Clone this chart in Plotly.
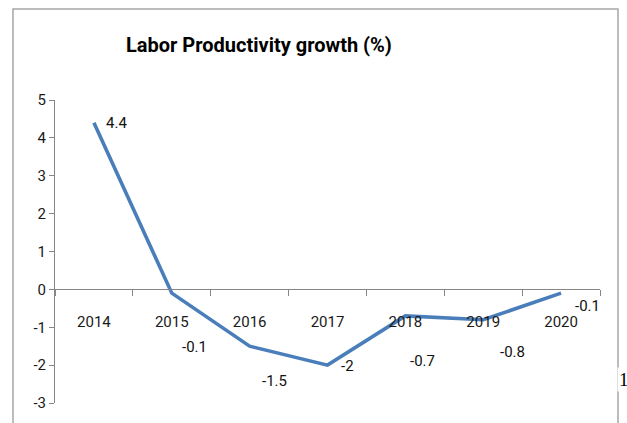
import plotly.graph_objects as go

years = ["2014", "2015", "2016", "2017", "2018", "2019", "2020"]
growth = [4.4, -0.1, -1.5, -2.0, -0.7, -0.8, -0.1]
label_text = ["4.4", "-0.1", "-1.5", "-2", "-0.7", "-0.8", "-0.1"]
y_ticks = [5, 4, 3, 2, 1, 0, -1, -2, -3]
y_tick_text = ["5", "4", "3", "2", "1", "0", "-1", "-2", "-3"]

# label offsets (px) relative to each point
label_dx = [23, 23, 25, 20, 17, 29, 26]
label_dy = [0, -54, -35, -1, -45, -32, -13]

FONT = "Liberation Sans Narrow, Roboto, sans-serif"
TXT = "#1a1a1a"

year_num = [int(y) for y in years]
boundaries = [y - 0.5 for y in year_num] + [year_num[-1] + 0.5]

fig = go.Figure()
fig.add_trace(go.Scatter(
    x=year_num, y=growth, mode="lines",
    line=dict(color="#4A7EBB", width=3.6),
    hoverinfo="skip", showlegend=False,
))

L, R, T, B = 55, 600, 100, 403
W, H = 627, 423

def px(x):
    return (x - L) / (R - L)

def py(y):
    return (B - y) / (B - T)

annotations = []
for yr, v, t, dx, dy in zip(year_num, growth, label_text, label_dx, label_dy):
    annotations.append(dict(x=yr, y=v, xref="x", yref="y", text=t, showarrow=False,
                            xshift=dx, yshift=dy,
                            font=dict(family=FONT, size=15, color="#111")))

annotations.append(dict(xref="paper", yref="paper", x=px(259), y=py(31),
                        text="<b>Labor Productivity growth (%)</b>", showarrow=False,
                        font=dict(family=FONT, size=20, color="#000")))
annotations.append(dict(xref="paper", yref="paper", x=px(617), y=py(379),
                        xanchor="left", yanchor="middle",
                        text="1", showarrow=False,
                        font=dict(family="Liberation Serif, Times New Roman, serif",
                                  size=19, color="#000"),
                        bgcolor="white"))

fig.update_layout(
    width=W, height=H,
    margin=dict(l=L, r=W - R, t=T, b=H - B, autoexpand=False),
    paper_bgcolor="white", plot_bgcolor="white",
    showlegend=False,
    annotations=annotations,
    shapes=[dict(type="rect", xref="paper", yref="paper",
                 x0=px(13), x1=px(618), y0=py(440), y1=py(9),
                 line=dict(color="#a6a6a6", width=1.5),
                 fillcolor="rgba(0,0,0,0)", layer="below")],
    xaxis=dict(
        type="linear", range=[boundaries[0], boundaries[-1]],
        anchor="free", position=3 / 8,
        tickvals=year_num, ticktext=years,
        showline=True, linecolor="#868686", linewidth=1,
        ticks="", ticklabelstandoff=19, automargin=False,
        minor=dict(tickvals=boundaries, ticks="outside", ticklen=6,
                   tickcolor="#868686", showgrid=False),
        showgrid=False, zeroline=False,
        tickfont=dict(family=FONT, size=15, color=TXT),
    ),
    yaxis=dict(
        range=[-3, 5], tickvals=y_ticks, ticktext=y_tick_text, automargin=False,
        showline=True, linecolor="#868686", linewidth=1,
        ticks="outside", ticklen=5, tickcolor="#868686",
        showgrid=False, zeroline=False,
        tickfont=dict(family=FONT, size=15, color=TXT),
    ),
)

fig.write_html("out.html", config={"displayModeBar": False},
               post_script="document.body.style.margin='0';")
